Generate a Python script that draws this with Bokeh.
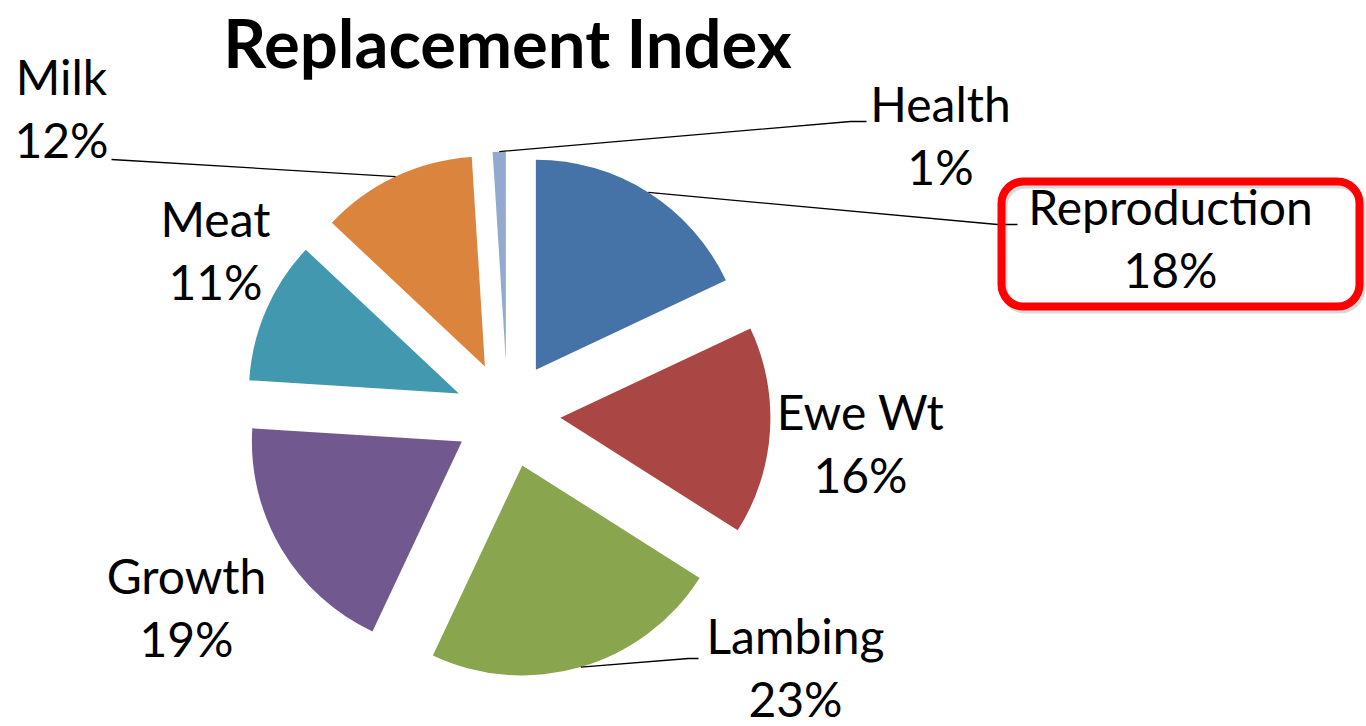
import math
from bokeh.plotting import figure
from bokeh.models import ColumnDataSource, Range1d, BoxAnnotation
from bokeh.core.properties import value
from bokeh.embed import file_html
from bokeh.resources import INLINE

# ---------------- data ----------------
title_text = "Replacement Index"
categories = ["Reproduction", "Ewe Wt", "Lambing", "Growth", "Meat", "Milk", "Health"]
shares = [18, 16, 23, 19, 11, 12, 1]
colors = ["#4572A7", "#AA4643", "#89A54E", "#71588F", "#4198AF", "#DB843D", "#93A9CF"]

# ---------------- layout ----------------
W, H = 1366, 726


def dx(X):
    return X


def dy(Y):
    return H - Y


CX, CY = dx(507), dy(414)   # pie centre
R = 210                      # pie radius
EXPLODE = 53                 # explosion distance
LINE_GAP = 63                # distance between label lines
LABEL_SIZE = 48
TITLE_SIZE = 67
TITLE_BASE = 67.5
BASE_FIX = 0.39              # baseline correction (em)

# label anchors (screen px): centre x, baseline of first line
label_pos = {
    "Reproduction": (1170, 225),
    "Ewe Wt": (860, 430),
    "Lambing": (795, 654),
    "Growth": (186, 594),
    "Meat": (215, 237),
    "Milk": (61, 95),
    "Health": (940, 122),
}
# leader line end points (screen px) for labels that have leader lines
leader_end = {
    "Reproduction": [(997, 224), (1017, 224)],
    "Lambing": [(688, 658), (698, 658)],
    "Milk": [(111, 159)],
    "Health": [(850, 121), (866, 121)],
}

# ---------------- geometry from data ----------------
total = float(sum(shares))
starts, ends, wx, wy, mids = [], [], [], [], []
cum = 0.0
for v in shares:
    a0 = math.pi / 2 - 2 * math.pi * cum / total
    a1 = math.pi / 2 - 2 * math.pi * (cum + v) / total
    cum += v
    m = (a0 + a1) / 2
    starts.append(a0)
    ends.append(a1)
    mids.append(m)
    wx.append(CX + EXPLODE * math.cos(m))
    wy.append(CY + EXPLODE * math.sin(m))

wedges = ColumnDataSource(dict(x=wx, y=wy, start=starts, end=ends, color=colors, cat=categories))

p = figure(width=W, height=H, x_range=Range1d(0, W), y_range=Range1d(0, H),
           output_backend="svg", toolbar_location=None,
           x_axis_type=None, y_axis_type=None, min_border=0,
           outline_line_color=None, background_fill_color="white",
           border_fill_color="white")
p.grid.visible = False

p.wedge(x="x", y="y", radius=R, start_angle="start", end_angle="end",
        direction="clock", fill_color="color", line_color=None, source=wedges)

# leader lines
lxs, lys = [], []
for i, c in enumerate(categories):
    if c in leader_end:
        sx = wx[i] + R * math.cos(mids[i])
        sy = wy[i] + R * math.sin(mids[i])
        xs = [sx] + [dx(X) for X, Y in leader_end[c]]
        ys = [sy] + [dy(Y) for X, Y in leader_end[c]]
        lxs.append(xs)
        lys.append(ys)
p.multi_line(xs=lxs, ys=lys, line_color="black", line_width=1.3)

# labels
fix = BASE_FIX * LABEL_SIZE
nx, ny, px, py, pct = [], [], [], [], []
for i, c in enumerate(categories):
    X, Y = label_pos[c]
    nx.append(dx(X))
    ny.append(dy(Y - fix))
    px.append(dx(X))
    py.append(dy(Y + LINE_GAP - fix))
    pct.append(f"{shares[i]}%")

FONT = "Lato"
p.text(x=nx, y=ny, text=categories, text_font=value(FONT), text_font_size=f"{LABEL_SIZE}px",
       text_align="center", text_baseline="alphabetic", text_color="black")
p.text(x=px, y=py, text=pct, text_font=value(FONT), text_font_size=f"{LABEL_SIZE}px",
       text_align="center", text_baseline="alphabetic", text_color="black")

# title
p.text(x=[dx(507)], y=[dy(TITLE_BASE - BASE_FIX * TITLE_SIZE)], text=[title_text],
       text_font=value(FONT), text_font_size=f"{TITLE_SIZE}px", text_font_style="bold",
       text_align="center", text_baseline="alphabetic", text_color="black")

# highlight box around Reproduction label
shadow = BoxAnnotation(left=dx(1003), right=dx(1361), top=dy(184), bottom=dy(309),
                       fill_alpha=0, line_color="#808080", line_alpha=0.3,
                       line_width=8, border_radius=22)
box = BoxAnnotation(left=dx(1001), right=dx(1359), top=dy(181), bottom=dy(306),
                    fill_alpha=0, line_color="#FF0000", line_alpha=1.0,
                    line_width=8, border_radius=22)
p.add_layout(shadow)
p.add_layout(box)

open("out.html", "w").write(file_html(p, INLINE))
